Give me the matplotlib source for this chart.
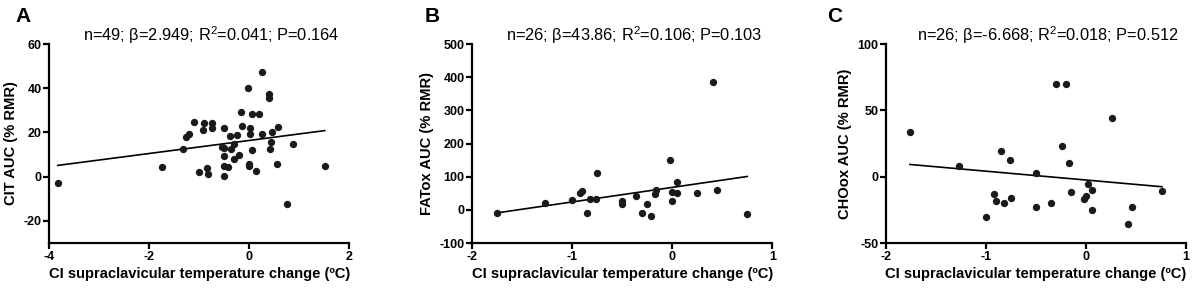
import numpy as np
import matplotlib
matplotlib.use("Agg")
import matplotlib.pyplot as plt

plt.rcParams['font.family'] = ['Liberation Sans', 'DejaVu Sans']
plt.rcParams['mathtext.fontset'] = 'custom'
plt.rcParams['mathtext.rm'] = 'Liberation Sans'
plt.rcParams['axes.unicode_minus'] = False

# panel A: CIT
cit_x = [0.26, -0.02, 0.39, 0.39, -0.17, 0.05, 0.19, -1.10, -0.90, -0.75,
         -0.93, -0.75, -0.50, -0.15, 0.01, 0.01, 0.25, 0.45, 0.58, -1.27,
         -1.21, -0.39, -0.25, -1.33, -0.50, -0.31, -0.36, 0.05, 0.43, 0.41,
         0.88, -0.50, -0.20, -0.30, -1.75, -1.00, -0.85, -0.82, -0.50, -0.43,
         -0.50, 0.00, 0.00, 0.13, 0.56, 1.51, 0.76, -3.83, -0.55]
cit_y = [47.5, 40.0, 37.3, 35.7, 29.4, 28.5, 28.5, 24.7, 24.2, 24.4,
         21.1, 22.0, 22.2, 22.9, 22.0, 19.3, 19.5, 20.4, 22.5, 17.8,
         19.3, 18.4, 18.9, 12.4, 13.0, 14.6, 12.4, 12.1, 15.8, 12.5,
         14.6, 9.2, 9.7, 7.9, 4.2, 2.1, 4.1, 1.1, 5.0, 4.2,
         0.5, 5.6, 4.8, 2.7, 5.7, 4.7, -12.4, -2.9, 13.6]

# panel B: FATox
fat_x = [-1.75, -1.27, -1.00, -0.92, -0.90, -0.85, -0.82, -0.76, -0.75, -0.50,
         -0.50, -0.36, -0.30, -0.25, -0.21, -0.17, -0.16, -0.02, 0.00, 0.00,
         0.05, 0.05, 0.25, 0.41, 0.45, 0.75]
fat_y = [-9, 22, 31, 51, 56, -8, 32, 32, 110, 27,
         17, 42, -9, 17, -19, 47, 60, 150, 54, 28,
         52, 83, 51, 385, 61, -13]

# panel C: CHOox
cho_x = [-1.76, -1.27, -1.00, -0.92, -0.90, -0.85, -0.82, -0.76, -0.75, -0.50,
         -0.50, -0.35, -0.30, -0.24, -0.20, -0.17, -0.15, 0.02, -0.02, 0.00,
         0.06, 0.06, 0.26, 0.42, 0.46, 0.76]
cho_y = [33.4, 8.0, -30.6, -12.7, -18.0, 19.7, -19.6, 12.4, -15.9, 2.5,
         -23.0, -19.9, 69.6, 23.0, 69.6, 10.4, -11.4, -5.3, -16.7, -14.2,
         -10.4, -25.0, 44.3, -35.8, -22.9, -11.0]

# regression (slope from title, intercept)
fits = [(2.949, 16.4), (43.86, 67.8), (-6.668, -2.5)]

titles = ['n=49; \u03b2=2.949; R$^2$=0.041; P=0.164',
          'n=26; \u03b2=43.86; R$^2$=0.106; P=0.103',
          'n=26; \u03b2=-6.668; R$^2$=0.018; P=0.512']
ylabels = ['CIT AUC (% RMR)', 'FATox AUC (% RMR)', 'CHOox AUC (% RMR)']
letters = ['A', 'B', 'C']
xlims = [(-4, 2), (-2, 1), (-2, 1)]
ylims = [(-30, 60), (-100, 500), (-50, 100)]
xticks = [[-4, -2, 0, 2], [-2, -1, 0, 1], [-2, -1, 0, 1]]
yticks = [[-20, 0, 20, 40, 60], [-100, 0, 100, 200, 300, 400, 500], [-50, 0, 50, 100]]
xs = [cit_x, fat_x, cho_x]
ys = [cit_y, fat_y, cho_y]

fig = plt.figure(figsize=(12, 2.9), dpi=100)
lefts = [0.041, 0.3936, 0.7383]
letter_x = [0.0125, 0.354, 0.689]
width = 0.25
bottom, top = 0.162, 0.848

for i in range(3):
    ax = fig.add_axes([lefts[i], bottom, width, top - bottom])
    x = np.array(xs[i])
    y = np.array(ys[i])
    ax.scatter(x, y, s=28, color='#1a1a1a', zorder=3, linewidths=0)
    b, a = fits[i]
    lx = np.array([x.min(), x.max()])
    ax.plot(lx, a + b * lx, color='black', lw=1.2, zorder=2)
    ax.set_xlim(*xlims[i])
    ax.set_ylim(*ylims[i])
    ax.set_xticks(xticks[i])
    ax.set_yticks(yticks[i])
    ax.spines['top'].set_visible(False)
    ax.spines['right'].set_visible(False)
    for s in ['left', 'bottom']:
        ax.spines[s].set_linewidth(1.6)
    ax.tick_params(direction='out', length=4, width=1.6, labelsize=9, pad=1.5)
    for lab in ax.get_xticklabels() + ax.get_yticklabels():
        lab.set_fontweight('bold')
    ax.set_xlabel('CI supraclavicular temperature change (\u00baC)', fontsize=10.6,
                  fontweight='bold', labelpad=3)
    ax.set_ylabel(ylabels[i], fontsize=10.6, fontweight='bold', labelpad=4)
    ax.text(0.54, 1.045, titles[i], transform=ax.transAxes, ha='center', va='center',
            fontsize=11.8)
    fig.text(letter_x[i], 0.975, letters[i], fontsize=15, fontweight='bold',
             ha='left', va='top')

fig.savefig('out.png', dpi=100)
